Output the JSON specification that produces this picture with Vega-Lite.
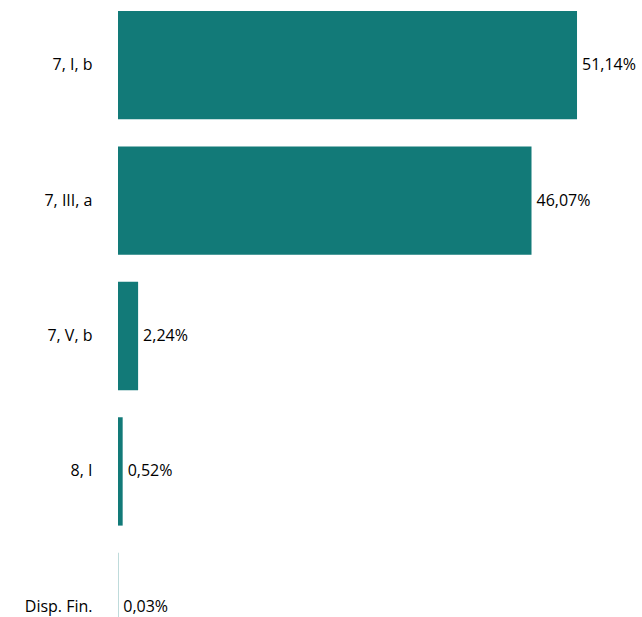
{
  "$schema": "https://vega.github.io/schema/vega-lite/v6.json",
  "width": 524,
  "height": 672,
  "autosize": "none",
  "padding": {"left": 118, "top": 0, "right": 0, "bottom": 0},
  "background": "white",
  "config": {"view": {"stroke": null}, "font": "Open Sans"},
  "data": {
    "values": [
      {"cat": "7, I, b", "val": 51.14, "label": "51,14%"},
      {"cat": "7, III, a", "val": 46.07, "label": "46,07%"},
      {"cat": "7, V, b", "val": 2.24, "label": "2,24%"},
      {"cat": "8, I", "val": 0.52, "label": "0,52%"},
      {"cat": "Disp. Fin.", "val": 0.03, "label": "0,03%"}
    ]
  },
  "encoding": {
    "y": {
      "field": "cat", "type": "nominal", "sort": null, "title": null,
      "scale": {"paddingInner": 0.2, "paddingOuter": 0.081},
      "axis": {"ticks": false, "domain": false, "labelPadding": 26, "labelFontSize": 16, "labelColor": "#000", "labelFont": "Open Sans"}
    },
    "x": {
      "field": "val", "type": "quantitative", "title": null,
      "scale": {"domain": [0, 58.38], "nice": false},
      "axis": null
    }
  },
  "layer": [
    {"mark": {"type": "bar", "color": "#127a78"}},
    {"mark": {"type": "text", "align": "left", "dx": 5, "fontSize": 16, "color": "#000"},
     "encoding": {"text": {"field": "label"}}}
  ]
}
